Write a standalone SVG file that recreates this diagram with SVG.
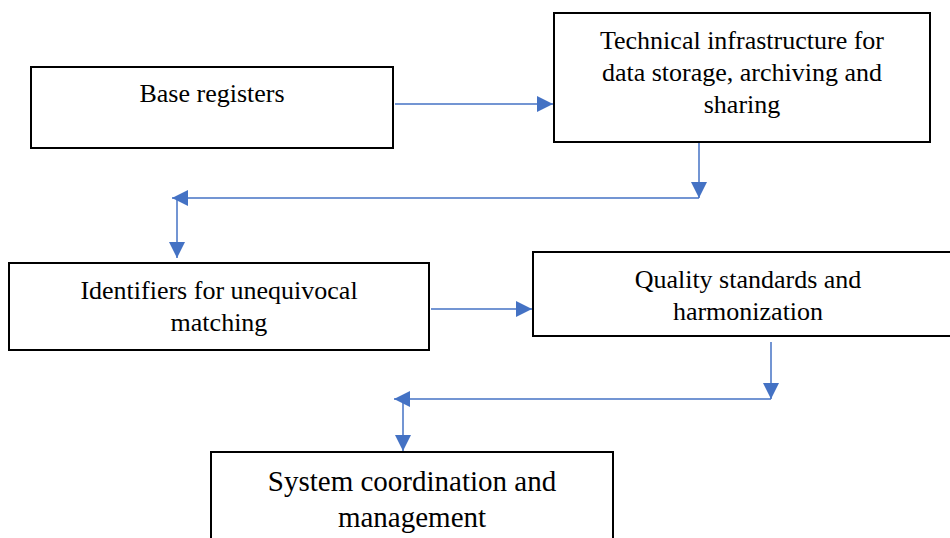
<svg xmlns="http://www.w3.org/2000/svg" width="950" height="538" viewBox="0 0 950 538">
<style>
.box{fill:#fff;stroke:#000;stroke-width:2}
.t{font-family:'Liberation Serif','Times New Roman',Tinos,'DejaVu Serif',serif;font-size:26px;fill:#000;text-anchor:middle}
.tl{font-size:29px}
.c{fill:none;stroke:#4472C4;stroke-width:1.5}
</style>
<defs>
<marker id="ah" viewBox="0 0 16 16" refX="16" refY="8" markerWidth="16" markerHeight="16" markerUnits="userSpaceOnUse" orient="auto">
<path d="M0,0 L16,8 L0,16 Z" fill="#4472C4"/>
</marker>
</defs>
<rect width="950" height="538" fill="#fff"/>
<g id="n1"><rect class="box" x="31" y="67" width="362" height="81"/><text class="t" font-family="Liberation Serif, serif" x="212" y="102">Base registers</text></g>
<g id="n2"><rect class="box" x="554" y="13" width="376" height="129"/><text class="t" font-family="Liberation Serif, serif" x="742" y="49">Technical infrastructure for</text><text class="t" font-family="Liberation Serif, serif" x="742" y="81">data storage, archiving and</text><text class="t" font-family="Liberation Serif, serif" x="742" y="113">sharing</text></g>
<g id="n3"><rect class="box" x="9" y="263" width="420" height="87"/><text class="t" font-family="Liberation Serif, serif" x="219" y="299">Identifiers for unequivocal</text><text class="t" font-family="Liberation Serif, serif" x="219" y="331">matching</text></g>
<g id="n4"><rect class="box" x="533" y="252" width="431" height="84"/><text class="t" font-family="Liberation Serif, serif" x="748" y="288">Quality standards and</text><text class="t" font-family="Liberation Serif, serif" x="748" y="320">harmonization</text></g>
<g id="n5"><rect class="box" x="211" y="452" width="402" height="100"/><text class="t tl" font-family="Liberation Serif, serif" x="412" y="491">System coordination and</text><text class="t tl" font-family="Liberation Serif, serif" x="412" y="527">management</text></g>
<g id="connectors">
<line class="c" x1="395" y1="104" x2="553" y2="104" marker-end="url(#ah)"/>
<line class="c" x1="699" y1="143" x2="699" y2="198" marker-end="url(#ah)"/>
<line class="c" x1="699" y1="198" x2="172" y2="198" marker-end="url(#ah)"/>
<line class="c" x1="177" y1="198" x2="177" y2="258" marker-end="url(#ah)"/>
<line class="c" x1="431" y1="309" x2="532" y2="309" marker-end="url(#ah)"/>
<line class="c" x1="771" y1="342" x2="771" y2="399" marker-end="url(#ah)"/>
<line class="c" x1="771" y1="399" x2="394" y2="399" marker-end="url(#ah)"/>
<line class="c" x1="403" y1="399" x2="403" y2="451" marker-end="url(#ah)"/>
</g>
</svg>
